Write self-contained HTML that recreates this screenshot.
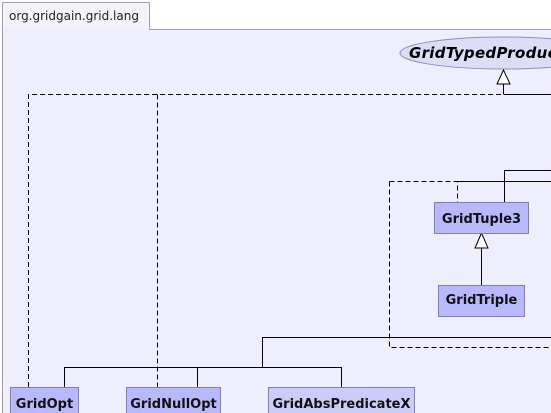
<html><body style="margin:0;width:551px;height:413px;overflow:hidden;background:#fff">
<svg width="551" height="413" style="position:absolute;left:0;top:0" font-family="'DejaVu Sans',sans-serif">
<rect x="2.5" y="29.5" width="560" height="400" fill="#eeeefc" stroke="#a0a0b0"/>
<rect x="2.5" y="2.5" width="147" height="27" fill="#f4f4f8" stroke="#a0a0b0"/>
<rect x="3" y="28" width="146" height="3" fill="#eeeefc"/>
<text x="9" y="20" font-size="12" fill="#222">org.gridgain.grid.lang</text>
<ellipse cx="503" cy="53" rx="103" ry="16" fill="#ddddf8" stroke="#9090b8"/>
<text x="409" y="58" font-size="15" font-weight="bold" font-style="italic" fill="#000" letter-spacing="0.3">GridTypedProduct</text>
<g stroke="#000" fill="none">
<path d="M28.5 387V94.5H503" stroke-dasharray="5,3"/>
<path d="M157.5 94.5V387" stroke-dasharray="5,3"/>
<path d="M503.5 94.5H551M503.5 94V84"/>
<polygon points="503.5,70 497,84 510,84" fill="#fff"/>
<path d="M389.5 181.5H457.5V202M389.5 181.5V347.5H551" stroke-dasharray="5,3"/>
<path d="M457.5 181.5H551M504.5 202V170.5H551"/>
<path d="M481.5 285V248"/>
<polygon points="481.5,233 475,248 488,248" fill="#fff"/>
<path d="M262.5 337.5H551M262.5 337V367.5M64.5 387V367.5H341.5V387M197.5 367.5V387"/>
</g>
<g stroke="#8080b0">
<rect x="10.5" y="387.5" width="68" height="30" fill="#b8b8fc"/>
<rect x="126.5" y="387.5" width="94" height="30" fill="#b8b8fc"/>
<rect x="268.5" y="387.5" width="146" height="30" fill="#ccccfa"/>
<rect x="434.5" y="202.5" width="94" height="31" fill="#b8b8fc"/>
<rect x="438.5" y="285.5" width="86" height="31" fill="#b8b8fc"/>
</g>
<g font-size="13" font-weight="bold" fill="#111" text-anchor="middle">
<text x="44.5" y="408">GridOpt</text>
<text x="173.5" y="408">GridNullOpt</text>
<text x="341.5" y="408">GridAbsPredicateX</text>
<text x="481.5" y="223">GridTuple3</text>
<text x="481.5" y="304">GridTriple</text>
</g>
</svg>
</body></html>
